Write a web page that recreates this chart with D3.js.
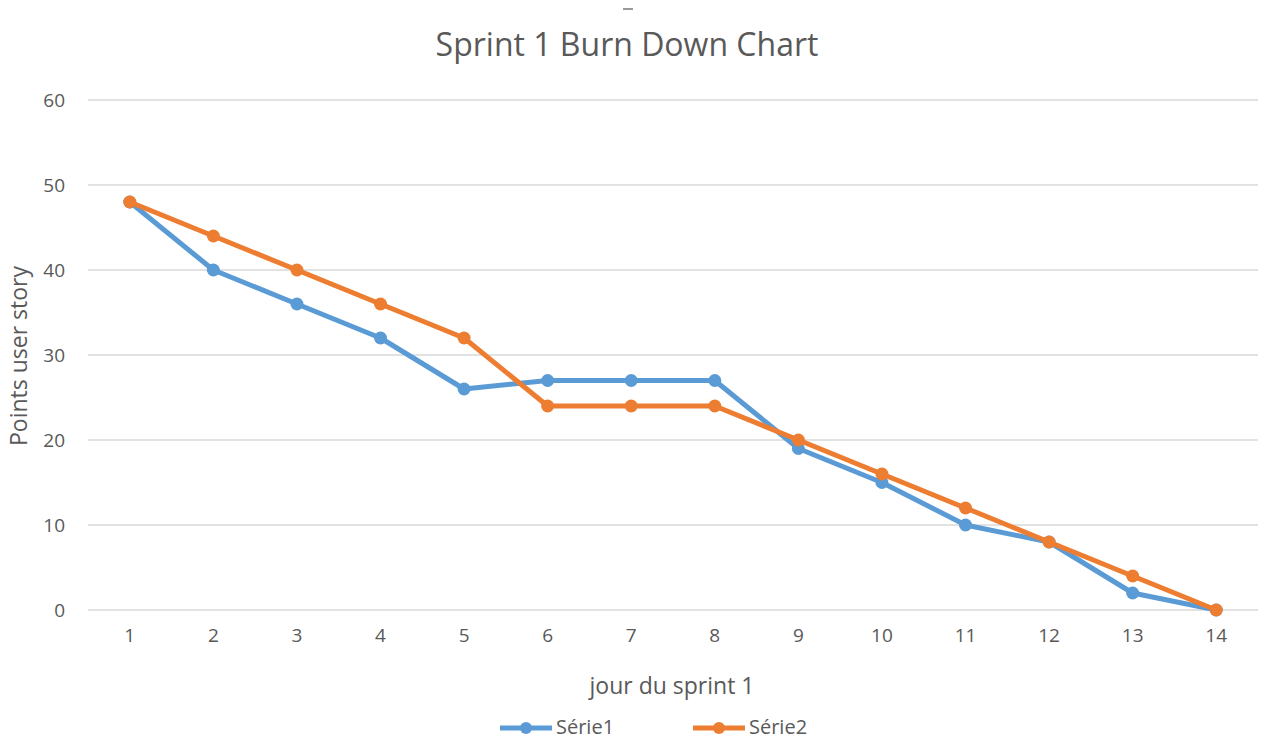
<html><head>
<meta charset="utf-8">
<title>Sprint 1 Burn Down Chart</title>
<script src="https://d3js.org/d3.v7.min.js"></script>
<style>
  body { margin: 0; background: #fff; overflow: hidden; }
  text { font-family: "Open Sans", Lato, sans-serif; fill: #595959; }
</style>
</head>
<body>
<div id="container"></div>
<script>

// Chart values
const days = [1, 2, 3, 4, 5, 6, 7, 8, 9, 10, 11, 12, 13, 14];
const serie1 = [48, 40, 36, 32, 26, 27, 27, 27, 19, 15, 10, 8, 2, 0];
const serie2 = [48, 44, 40, 36, 32, 24, 24, 24, 20, 16, 12, 8, 4, 0];
const yTicks = [0, 10, 20, 30, 40, 50, 60];
const seriesNames = ["Série1", "Série2"];
const seriesColors = ["#5B9BD5", "#ED7D31"];

const width = 1261;
const height = 740;
const margin = { top: 100, right: 3, bottom: 130, left: 88 };
const chartWidth = width - margin.left - margin.right;
const chartHeight = height - margin.top - margin.bottom;

const svg = d3.select("#container").append("svg")
              .attr("width", width)
              .attr("height", height)
              .style("display", "block");

// small mark above the title
svg.append("line")
   .attr("x1", 623).attr("x2", 633).attr("y1", 9).attr("y2", 9)
   .attr("stroke", "#777").attr("stroke-width", 1.5);

svg.append("text")
   .attr("x", 627).attr("y", 56)
   .attr("text-anchor", "middle")
   .style("font-size", "32px")
   .text("Sprint 1 Burn Down Chart");

const chart = svg.append("g").attr("transform", "translate(" + margin.left + "," + margin.top + ")");

const xScale = d3.scaleBand().domain(days).range([0, chartWidth]);
const yScale = d3.scaleLinear().domain([0, 60]).range([chartHeight, 0]);

// gridlines
chart.append("g").selectAll("line")
     .data(yTicks)
     .join("line")
     .attr("x1", 0).attr("x2", chartWidth)
     .attr("y1", d => yScale(d)).attr("y2", d => yScale(d))
     .attr("stroke", "#d9d9d9").attr("stroke-width", 1.5);

// y axis
const yAxis = d3.axisLeft(yScale).tickValues(yTicks).tickSize(0).tickPadding(23);
const yAxisG = chart.append("g").call(yAxis);
yAxisG.select(".domain").remove();
yAxisG.selectAll("text").style("font-size", "19px").attr("fill", "#595959")
      .style("font-family", "'Open Sans', Lato, sans-serif");

// x axis
const xAxis = d3.axisBottom(xScale).tickSize(0).tickPadding(19);
const xAxisG = chart.append("g").attr("transform", "translate(0," + chartHeight + ")").call(xAxis);
xAxisG.select(".domain").remove();
xAxisG.selectAll("text").style("font-size", "19px").attr("fill", "#595959")
      .style("font-family", "'Open Sans', Lato, sans-serif");

// axis titles
svg.append("text")
   .attr("x", margin.left + chartWidth / 2 - 1).attr("y", 694)
   .attr("text-anchor", "middle")
   .style("font-size", "23px")
   .text("jour du sprint 1");

svg.append("text")
   .attr("transform", "translate(27,356) rotate(-90)")
   .attr("text-anchor", "middle")
   .style("font-size", "23px")
   .text("Points user story");

// lines
const line = d3.line()
               .x((d, i) => xScale(days[i]) + xScale.bandwidth() / 2)
               .y(d => yScale(d));

[serie1, serie2].forEach((s, k) => {
  chart.append("path")
       .datum(s)
       .attr("d", line)
       .attr("fill", "none")
       .attr("stroke", seriesColors[k])
       .attr("stroke-width", 5)
       .attr("stroke-linejoin", "round");
  chart.append("g").selectAll("circle")
       .data(s)
       .join("circle")
       .attr("cx", (d, i) => xScale(days[i]) + xScale.bandwidth() / 2)
       .attr("cy", d => yScale(d))
       .attr("r", 6.5)
       .attr("fill", seriesColors[k]);
});

// legend
const legend = svg.append("g").attr("transform", "translate(500,728)");
seriesNames.forEach((name, k) => {
  const g = legend.append("g").attr("transform", "translate(" + (k * 193) + ",0)");
  g.append("line").attr("x1", 0).attr("x2", 52).attr("y1", 0).attr("y2", 0)
   .attr("stroke", seriesColors[k]).attr("stroke-width", 5);
  g.append("circle").attr("cx", 26).attr("cy", 0).attr("r", 6).attr("fill", seriesColors[k]);
  g.append("text").attr("x", 56).attr("y", 6).style("font-size", "20px").text(name);
});

</script>
</body>
</html>
